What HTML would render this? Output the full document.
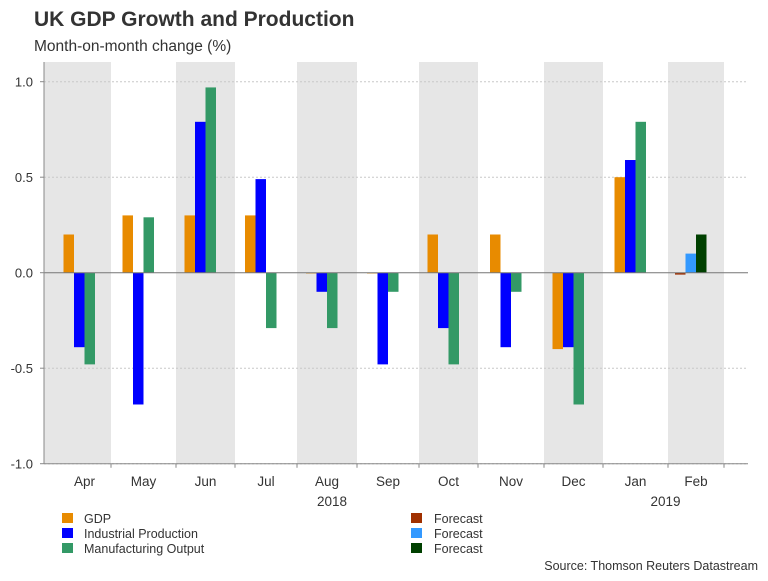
<!DOCTYPE html>
<html><head><meta charset="utf-8"><style>
body{margin:0;background:#fff;font-family:"Liberation Sans",sans-serif;}
svg text{font-family:"Liberation Sans",sans-serif;}
</style></head><body>
<svg id="c" width="768" height="576" viewBox="0 0 768 576" xmlns="http://www.w3.org/2000/svg">
<text x="34" y="26" font-size="21" font-weight="bold" fill="#333">UK GDP Growth and Production</text>
<text x="34" y="51" font-size="15.5" fill="#333">Month-on-month change (%)</text>
<g id="bands"></g><g id="grid"></g><g id="bars"></g><g id="axes"></g>
<g font-size="12.5" fill="#333">
<rect x="62" y="513" width="11" height="10" fill="#E88B00"/>
<text x="84" y="523">GDP</text>
<rect x="62" y="528" width="11" height="10" fill="#0000FF"/>
<text x="84" y="538">Industrial Production</text>
<rect x="62" y="543" width="11" height="10" fill="#339966"/>
<text x="84" y="553">Manufacturing Output</text>
<rect x="411" y="513" width="11" height="10" fill="#A03000"/>
<text x="434" y="523">Forecast</text>
<rect x="411" y="528" width="11" height="10" fill="#3399FF"/>
<text x="434" y="538">Forecast</text>
<rect x="411" y="543" width="11" height="10" fill="#004000"/>
<text x="434" y="553">Forecast</text>
</g>
<text x="758" y="570" font-size="12.5" fill="#333" text-anchor="end">Source: Thomson Reuters Datastream</text>
</svg>
<script>
const months=["Apr","May","Jun","Jul","Aug","Sep","Oct","Nov","Dec","Jan","Feb"];
const gdp=[0.2,0.3,0.3,0.3,0,0,0.2,0.2,-0.4,0.5,null];
const indProd=[-0.39,-0.69,0.79,0.49,-0.1,-0.48,-0.29,-0.39,-0.39,0.59,null];
const mfgOut=[-0.48,0.29,0.97,-0.29,-0.29,-0.1,-0.48,-0.1,-0.69,0.79,null];
const fcGdp=[null,null,null,null,null,null,null,null,null,null,-0.01];
const fcIp=[null,null,null,null,null,null,null,null,null,null,0.1];
const fcMo=[null,null,null,null,null,null,null,null,null,null,0.2];
const yTicks=[-1.0,-0.5,0.0,0.5,1.0];
const yTickLabels=["-1.0","-0.5","0.0","0.5","1.0"];
const years=[{label:"2018",month:"Aug"},{label:"2019",month:"Jan"}];

const NS="http://www.w3.org/2000/svg";
const edges=[58,111,176,235,297,357,419,478,544,603,668,724];
const X0=44,X1=748;
function y(v){return 272.7-v*191;}
function xCenter(i){return (edges[i]+edges[i+1])/2;}
function mk(tag,attrs,parent){const e=document.createElementNS(NS,tag);for(const k in attrs)e.setAttribute(k,attrs[k]);parent.appendChild(e);return e;}
const bands=document.getElementById('bands'),grid=document.getElementById('grid'),bars=document.getElementById('bars'),axes=document.getElementById('axes');
months.forEach((m,i)=>{
  if(i%2===0){
    const x0=i===0?X0:edges[i];
    const r=mk('rect',{x:x0,y:62,width:edges[i+1]-x0,height:y(-1)-62,fill:'#E6E6E6'},bands);
    
    
  }
});
yTicks.forEach((t,i)=>{
  if(t!==0){
    const l=mk('line',{x1:X0,x2:X1,y1:y(t),y2:y(t),stroke:'#C8C8C8','stroke-dasharray':'2,2','stroke-width':1},grid);
    
    
  }
  const tx=mk('text',{x:33,y:y(t)+5,'font-size':13,fill:'#333','text-anchor':'end'},axes);
  tx.textContent=yTickLabels[i];
  
  
  const tk=mk('line',{x1:X0-4,x2:X0,y1:y(t),y2:y(t),stroke:'#888'},axes);
  
  
});
const series=[[gdp,'#E88B00','gdp',0],[indProd,'#0000FF','industrial-production',1],[mfgOut,'#339966','manufacturing-output',2],[fcGdp,'#A03000','forecast-gdp',0],[fcIp,'#3399FF','forecast-ip',1],[fcMo,'#004000','forecast-mo',2]];
const BW=10.5;
series.forEach(([arr,col,name,slot])=>{
  arr.forEach((v,i)=>{
    if(v===null)return;
    const off=(name.startsWith('forecast')&&false)?0:-21;
    const x=xCenter(i)+off+slot*BW;
    const h=Math.max(Math.abs(y(v)-y(0)),v===0?0.8:1.5);
    const r=mk('rect',{x:x,y:v>=0?y(v):y(0),width:BW,height:h,fill:col},bars);
    
    
  });
});
const z=mk('line',{x1:X0,x2:X1,y1:y(0),y2:y(0),stroke:'#777','stroke-width':1},axes);

const ya=mk('line',{x1:X0,x2:X0,y1:62,y2:y(-1),stroke:'#888'},axes);

const xa=mk('line',{x1:X0,x2:X1,y1:y(-1),y2:y(-1),stroke:'#888'},axes);

edges.slice(1).forEach(e=>{
  const t=mk('line',{x1:e,x2:e,y1:y(-1),y2:y(-1)+4,stroke:'#888'},axes);
  
});
months.forEach((m,i)=>{
  const t=mk('text',{x:xCenter(i),y:486,'font-size':13.5,fill:'#333','text-anchor':'middle'},axes);
  t.textContent=m;
  
});
years.forEach(yr=>{
  const t=mk('text',{x:xCenter(months.indexOf(yr.month))+(yr.label==='2018'?5:30),y:506,'font-size':13.5,fill:'#333','text-anchor':'middle'},axes);
  t.textContent=yr.label;
  
});
</script>
</body></html>
